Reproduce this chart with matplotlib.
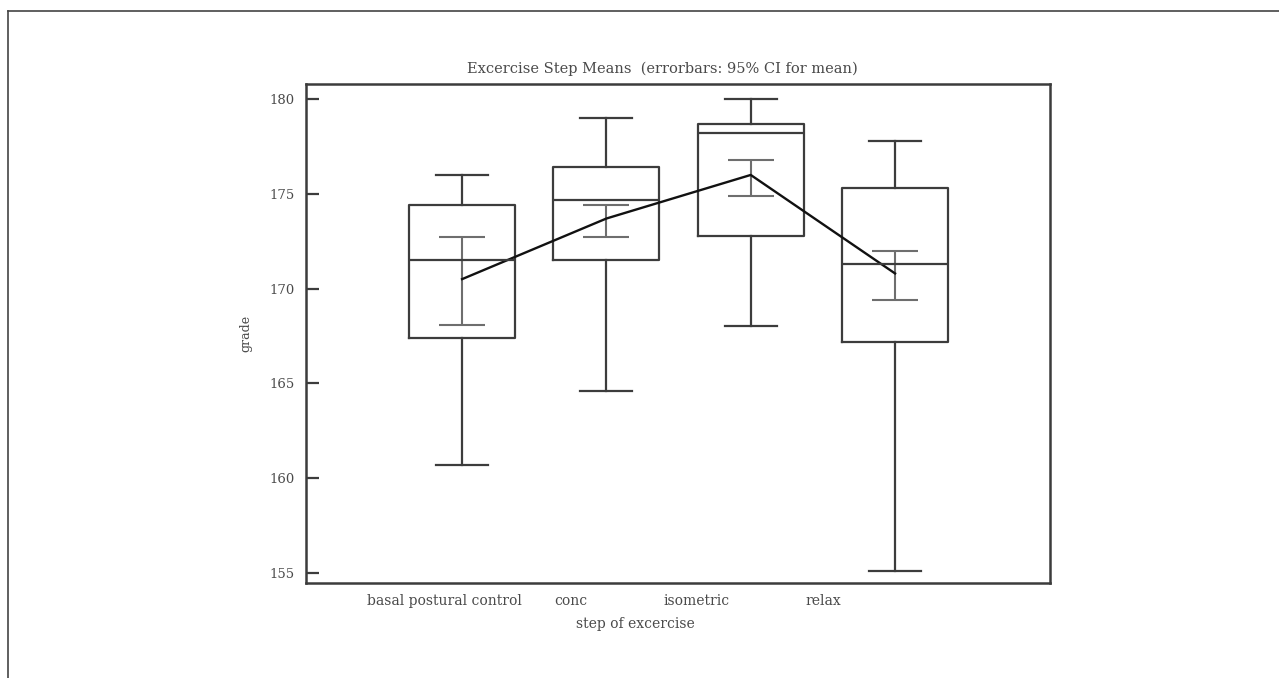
"""Excercise step means: box plots with 95% CI error bars for the mean."""

import matplotlib

matplotlib.use("Agg")
import matplotlib.pyplot as plt
from matplotlib.lines import Line2D

steps = ["basal postural control", "conc", "isometric", "relax"]
box_pos = [1, 2, 3, 4]
label_pos = [0.875, 1.75, 2.625, 3.5]

whisker_low = [160.7, 164.6, 168.0, 155.1]
q1 = [167.4, 171.5, 172.8, 167.2]
median = [171.5, 174.7, 178.2, 171.3]
q3 = [174.4, 176.4, 178.7, 175.3]
whisker_high = [176.0, 179.0, 180.0, 177.8]

means = [170.5, 173.7, 176.0, 170.8]
ci_low = [168.1, 172.7, 174.9, 169.4]
ci_high = [172.7, 174.4, 176.8, 172.0]

text_color = "#4a4a4a"
line_color = "#3c3c3c"

plt.rcParams["font.family"] = ["DejaVu Serif"]

fig = plt.figure(figsize=(12.79, 6.78), dpi=100)
ax = fig.add_axes([0.2393, 0.1401, 0.5817, 0.736])

stats = [
    {"med": m, "q1": a, "q3": b, "whislo": lo, "whishi": hi, "fliers": []}
    for m, a, b, lo, hi in zip(median, q1, q3, whisker_low, whisker_high)
]
line_style = {"color": line_color, "linewidth": 1.6}
ax.bxp(
    stats,
    positions=box_pos,
    widths=0.735,
    capwidths=0.36,
    showfliers=False,
    boxprops=line_style,
    medianprops=line_style,
    whiskerprops=line_style,
    capprops=line_style,
    manage_ticks=False,
)

yerr = [
    [m - lo for m, lo in zip(means, ci_low)],
    [hi - m for m, hi in zip(means, ci_high)],
]
ax.errorbar(box_pos, means, yerr=yerr, fmt="none", ecolor="#6e6e6e",
            elinewidth=1.5, capsize=16.9, capthick=1.5)
ax.plot(box_pos, means, color="#111111", linewidth=1.7)

ax.set_xlim(-0.081, 5.074)
ax.set_ylim(154.46, 180.8)
ax.set_yticks([155, 160, 165, 170, 175, 180])
ax.set_xticks(label_pos)
ax.set_xticklabels(steps)
ax.tick_params(axis="y", direction="in", length=9.4, width=1.6,
               color=line_color, pad=8, labelsize=9.5, labelcolor=text_color)
ax.tick_params(axis="x", length=0, pad=8, labelsize=10, labelcolor=text_color)
for spine in ax.spines.values():
    spine.set_linewidth(1.8)
    spine.set_color(line_color)

ax.set_title("Excercise Step Means  (errorbars: 95% CI for mean)",
             fontsize=10.5, color=text_color, x=0.4785, pad=8)
ax.set_xlabel("step of excercise", fontsize=10, color=text_color)
ax.xaxis.set_label_coords(0.442, -0.068)
ax.set_ylabel("grade", fontsize=9, color=text_color)
ax.yaxis.set_label_coords(-0.0726, 0.5)

# frame lines of the surrounding page (top and left only)
fig.add_artist(Line2D([8 / 1279, 8 / 1279], [0, 1 - 11 / 678],
                      transform=fig.transFigure, color="#444444", linewidth=1.2))
fig.add_artist(Line2D([8 / 1279, 1], [1 - 11 / 678, 1 - 11 / 678],
                      transform=fig.transFigure, color="#444444", linewidth=1.2))

fig.savefig("out.png", dpi=100)
